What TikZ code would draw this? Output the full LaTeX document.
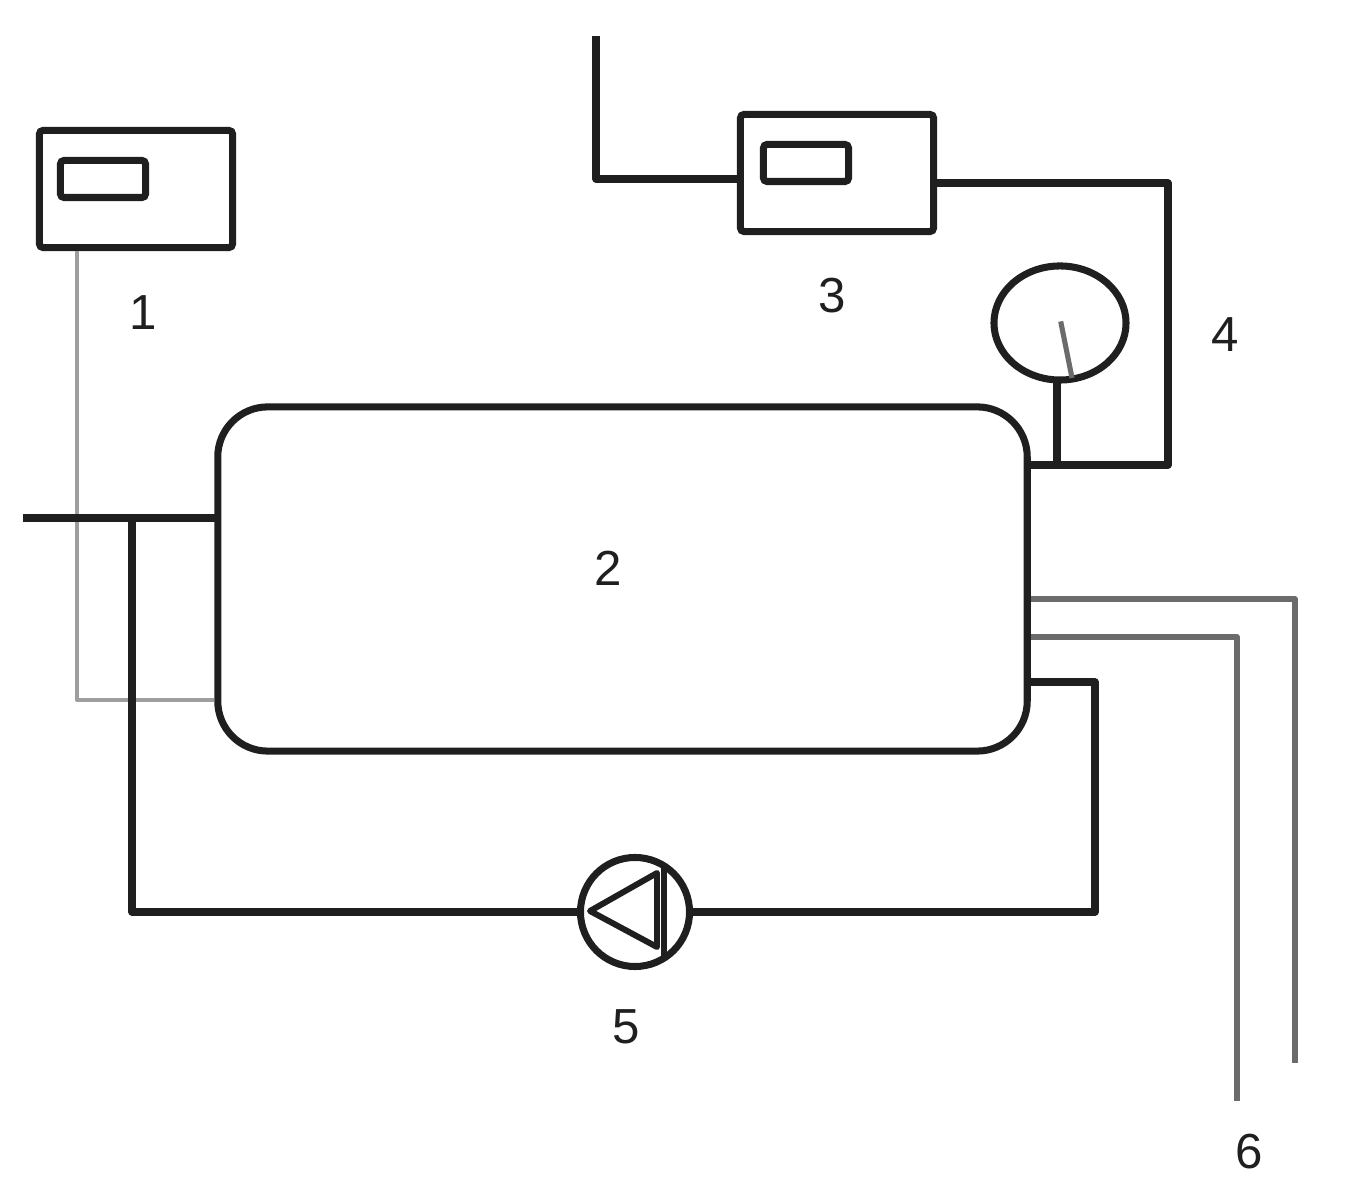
\documentclass[tikz,border=0pt]{standalone}
\usepackage{fontspec}
\setmainfont{Liberation Sans}
\usetikzlibrary{shapes.geometric,positioning}

\begin{document}
\begin{tikzpicture}[x=0.01cm,y=-0.01cm,
	pipe/.style={line width=2pt,black!88,line join=round},
	greypipe/.style={line width=1.45pt,black!58,line join=round,shorten <=1pt},
	lightpipe/.style={line width=1.2pt,black!38,line join=round,shorten <=1pt,shorten >=1pt},
	unit/.style={draw,line width=2pt,black!88,outer sep=0pt,minimum width=1.93cm,minimum height=1.17cm,rounded corners=1pt},
	display/.style={draw,line width=2pt,black!88,outer sep=0pt,minimum width=0.85cm,minimum height=0.37cm,rounded corners=1pt},
	num/.style={font=\fontsize{14}{14}\selectfont,text=black!88,inner sep=0pt}]
	\useasboundingbox (0,0) rectangle (1351,1204);

	\node[unit] (unit_1) at (136,189) {};
	\node[display] (disp_1) at (103,179) {};
	\node[unit] (unit_3) at (837,173) {};
	\node[display] (disp_3) at (806,163) {};
	\node[draw,line width=2pt,black!88,outer sep=0pt,minimum width=8.09cm,minimum height=3.44cm,rounded corners=0.5cm] (tank) at (622.5,579) {};
	\node[ellipse,draw,line width=2pt,black!88,outer sep=0pt,inner sep=0pt,minimum width=1.32cm,minimum height=1.14cm] (gauge) at (1060,323) {};
	\node[circle,draw,line width=2pt,black!88,outer sep=0pt,inner sep=0pt,minimum size=1.09cm] (pump) at (635,912) {};

	\node[num] (n_1) at (143,313) {1};
	\node[num] (n_2) at (608,568) {2};
	\node[num] (n_3) at (832,296) {3};
	\node[num] (n_4) at (1225,335) {4};
	\node[num] (n_5) at (626,1027) {5};
	\node[num] (n_6) at (1249,1152) {6};

	\coordinate (feed) at (596,36);
	\coordinate (inlet) at (23,518);
	\coordinate (branch) at (132,518);
	\coordinate (tank_w1) at (218,518);
	\coordinate (tank_w2) at (218,700);
	\coordinate (tank_e1) at (1027,465);
	\coordinate (tank_e2) at (1027,599);
	\coordinate (tank_e3) at (1027,637);
	\coordinate (tank_e4) at (1027,682);
	\coordinate (end_a) at (1295,1063);
	\coordinate (end_b) at (1237,1101);
	\coordinate (stem) at (1057,465);
	\coordinate (stem_top) at (1057,380);
	\coordinate (needle_a) at (1060,318);
	\coordinate (needle_b) at (1072,378);

	\draw[lightpipe] (unit_1.south -| 77,0) -- (77,700) -- (tank_w2);
	\draw[pipe] (feed) |- (unit_3.west |- 0,179);
	\draw[pipe] (unit_3.east |- 0,183) -- (1168,183) -- (1168,465) -- (tank_e1);
	\draw[pipe] (stem) -- (stem_top);
	\draw[greypipe] (needle_a) -- (needle_b);
	\draw[pipe] (inlet) -- (tank_w1);
	\draw[pipe] (branch) |- (pump.west);
	\draw[pipe] (pump.east) -- (1095,912) -- (1095,682) -- (tank_e4);
	\draw[greypipe] (tank_e2) -| (end_a);
	\draw[greypipe] (tank_e3) -| (end_b);

	\coordinate (tri_a) at (590,911);
	\coordinate (tri_b) at (657,873);
	\coordinate (tri_c) at (657,947);
	\draw[line width=1.7pt,black!88,line join=round] (tri_a) -- (tri_b) -- (tri_c) -- cycle;
	\draw[line width=1.5pt,black!88] (664,866) -- (664,957);
\end{tikzpicture}
\end{document}
